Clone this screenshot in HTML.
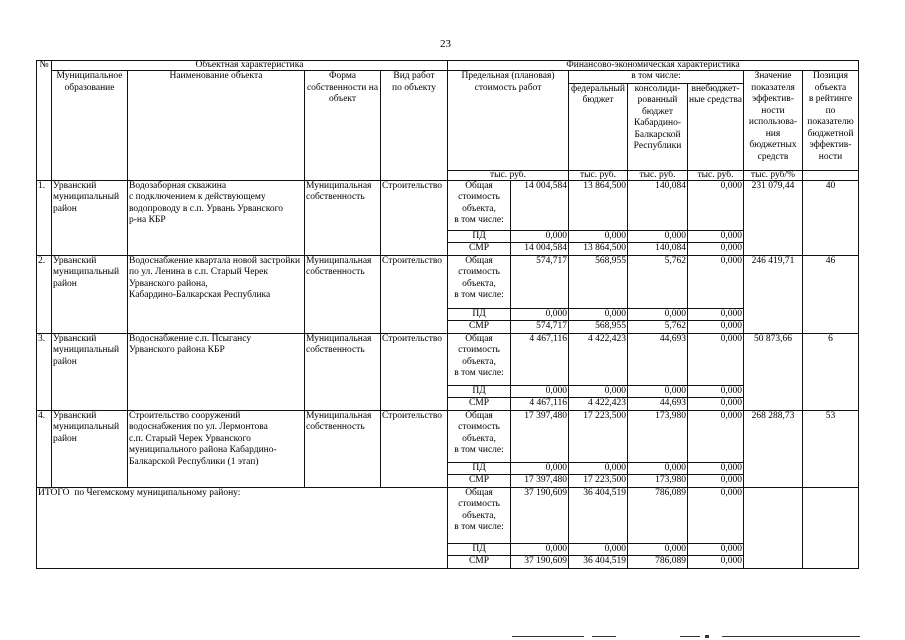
<!DOCTYPE html>
<html><head><meta charset="utf-8">
<style>
html,body{margin:0;padding:0;background:#fff;}
body{width:905px;height:640px;position:relative;overflow:hidden;font-family:"Liberation Serif","DejaVu Serif",serif;color:#000;}
.pn{position:absolute;left:440px;top:38px;font-size:11px;}
table{position:absolute;left:36px;top:60px;border-collapse:collapse;table-layout:fixed;font-size:9.5px;line-height:11.5px;}
td{border:1px solid #111;padding:0 1px;vertical-align:top;overflow:hidden;white-space:nowrap;}
.c{text-align:center;}
.r{text-align:right;}
.h1 td{height:9px;line-height:9px;}
.h2 td{height:11px;}
.mark{position:absolute;height:1px;background:#333;top:636px;}
</style></head><body>
<div class="pn">23</div>
<table>
<colgroup>
<col style="width:15px"><col style="width:76px"><col style="width:177px"><col style="width:76px"><col style="width:67px">
<col style="width:63px"><col style="width:58px"><col style="width:59px"><col style="width:60px"><col style="width:56px"><col style="width:59px"><col style="width:56px">
</colgroup>
<tr class="h1"><td rowspan="4" class="c">№</td><td colspan="4" class="c">Объектная характеристика</td><td colspan="7" class="c">Финансово-экономическая характеристика</td></tr>
<tr class="h2"><td rowspan="3" class="c">Муниципальное<br>образование</td><td rowspan="3" class="c">Наименование объекта</td><td rowspan="3" class="c">Форма<br>собственности на<br>объект</td><td rowspan="3" class="c">Вид работ<br>по объекту</td>
<td rowspan="2" colspan="2" class="c">Предельная (плановая)<br>стоимость работ</td><td colspan="3" class="c">в том числе:</td><td rowspan="2" class="c">Значение<br>показателя<br>эффектив-<br>ности<br>использова-<br>ния<br>бюджетных<br>средств</td><td rowspan="2" class="c">Позиция<br>объекта<br>в рейтинге<br>по<br>показателю<br>бюджетной<br>эффектив-<br>ности</td></tr>
<tr style="height:87px"><td class="c">федеральный<br>бюджет</td><td class="c">консолиди-<br>рованный<br>бюджет<br>Кабардино-<br>Балкарской<br>Республики</td><td class="c">внебюджет-<br>ные средства</td></tr>
<tr class="h1"><td colspan="2" class="c">тыс. руб.</td><td class="c">тыс. руб.</td><td class="c">тыс. руб.</td><td class="c">тыс. руб.</td><td class="c">тыс. руб/%</td><td></td></tr>

<tr style="height:50px"><td rowspan="3">1.</td><td rowspan="3">Урванский<br>муниципальный<br>район</td><td rowspan="3">Водозаборная скважина<br>с подключением к действующему<br>водопроводу в с.п. Урвань Урванского<br>р-на КБР</td><td rowspan="3">Муниципальная<br>собственность</td><td rowspan="3">Строительство</td>
<td class="c">Общая<br>стоимость<br>объекта,<br>в том числе:</td><td class="r">14 004,584</td><td class="r">13 864,500</td><td class="r">140,084</td><td class="r">0,000</td><td rowspan="3" class="c">231 079,44</td><td rowspan="3" class="c">40</td></tr>
<tr style="height:11px"><td class="c">ПД</td><td class="r">0,000</td><td class="r">0,000</td><td class="r">0,000</td><td class="r">0,000</td></tr>
<tr style="height:11px"><td class="c">СМР</td><td class="r">14 004,584</td><td class="r">13 864,500</td><td class="r">140,084</td><td class="r">0,000</td></tr>

<tr style="height:53px"><td rowspan="3">2.</td><td rowspan="3">Урванский<br>муниципальный<br>район</td><td rowspan="3">Водоснабжение квартала новой застройки<br>по ул. Ленина в с.п. Старый Черек<br>Урванского района,<br>Кабардино-Балкарская Республика</td><td rowspan="3">Муниципальная<br>собственность</td><td rowspan="3">Строительство</td>
<td class="c">Общая<br>стоимость<br>объекта,<br>в том числе:</td><td class="r">574,717</td><td class="r">568,955</td><td class="r">5,762</td><td class="r">0,000</td><td rowspan="3" class="c">246 419,71</td><td rowspan="3" class="c">46</td></tr>
<tr style="height:12px"><td class="c">ПД</td><td class="r">0,000</td><td class="r">0,000</td><td class="r">0,000</td><td class="r">0,000</td></tr>
<tr style="height:12px"><td class="c">СМР</td><td class="r">574,717</td><td class="r">568,955</td><td class="r">5,762</td><td class="r">0,000</td></tr>

<tr style="height:52px"><td rowspan="3">3.</td><td rowspan="3">Урванский<br>муниципальный<br>район</td><td rowspan="3">Водоснабжение с.п. Псыгансу<br>Урванского района КБР</td><td rowspan="3">Муниципальная<br>собственность</td><td rowspan="3">Строительство</td>
<td class="c">Общая<br>стоимость<br>объекта,<br>в том числе:</td><td class="r">4 467,116</td><td class="r">4 422,423</td><td class="r">44,693</td><td class="r">0,000</td><td rowspan="3" class="c">50 873,66</td><td rowspan="3" class="c">6</td></tr>
<tr style="height:12px"><td class="c">ПД</td><td class="r">0,000</td><td class="r">0,000</td><td class="r">0,000</td><td class="r">0,000</td></tr>
<tr style="height:12px"><td class="c">СМР</td><td class="r">4 467,116</td><td class="r">4 422,423</td><td class="r">44,693</td><td class="r">0,000</td></tr>

<tr style="height:52px"><td rowspan="3">4.</td><td rowspan="3">Урванский<br>муниципальный<br>район</td><td rowspan="3">Строительство сооружений<br>водоснабжения по ул. Лермонтова<br>с.п. Старый Черек Урванского<br>муниципального района Кабардино-<br>Балкарской Республики (1 этап)</td><td rowspan="3">Муниципальная<br>собственность</td><td rowspan="3">Строительство</td>
<td class="c">Общая<br>стоимость<br>объекта,<br>в том числе:</td><td class="r">17 397,480</td><td class="r">17 223,500</td><td class="r">173,980</td><td class="r">0,000</td><td rowspan="3" class="c">268 288,73</td><td rowspan="3" class="c">53</td></tr>
<tr style="height:12px"><td class="c">ПД</td><td class="r">0,000</td><td class="r">0,000</td><td class="r">0,000</td><td class="r">0,000</td></tr>
<tr style="height:12px"><td class="c">СМР</td><td class="r">17 397,480</td><td class="r">17 223,500</td><td class="r">173,980</td><td class="r">0,000</td></tr>

<tr style="height:56px"><td rowspan="3" colspan="5">ИТОГО&nbsp; по Чегемскому муниципальному району:</td>
<td class="c">Общая<br>стоимость<br>объекта,<br>в том числе:</td><td class="r">37 190,609</td><td class="r">36 404,519</td><td class="r">786,089</td><td class="r">0,000</td><td rowspan="3"></td><td rowspan="3"></td></tr>
<tr style="height:12px"><td class="c">ПД</td><td class="r">0,000</td><td class="r">0,000</td><td class="r">0,000</td><td class="r">0,000</td></tr>
<tr style="height:12px"><td class="c">СМР</td><td class="r">37 190,609</td><td class="r">36 404,519</td><td class="r">786,089</td><td class="r">0,000</td></tr>
</table>
<div class="mark" style="left:512px;width:72px"></div>
<div class="mark" style="left:592px;width:24px"></div>
<div class="mark" style="left:680px;width:20px"></div>
<div class="mark" style="left:705px;width:4px;height:3px;top:635px"></div>
<div class="mark" style="left:722px;width:138px"></div>
</body></html>
